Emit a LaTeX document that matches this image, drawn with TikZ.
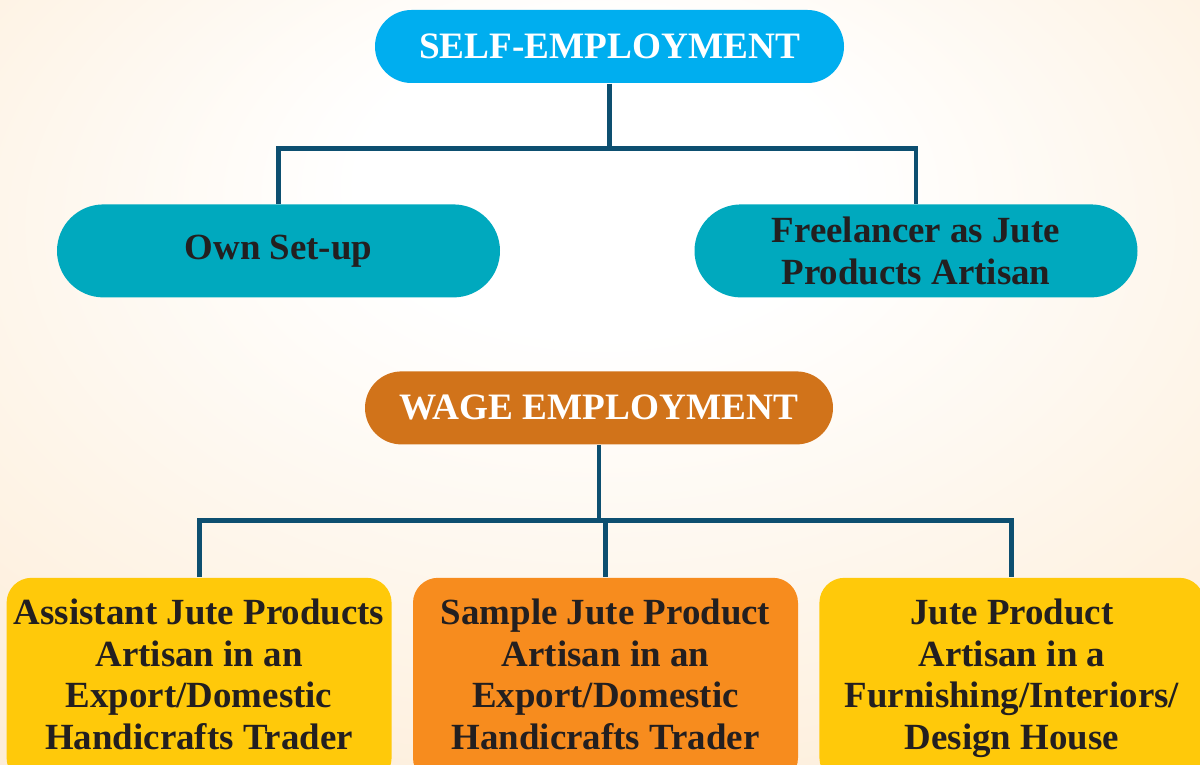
\documentclass[tikz,border=0pt]{standalone}
\usepackage{fontspec}
\setmainfont{Liberation Serif}
\usepackage{xcolor}
\usetikzlibrary{positioning}

\definecolor{bgedge}{HTML}{FCE3C2}
\definecolor{selfblue}{HTML}{00AEEF}
\definecolor{ownteal}{HTML}{00A9BE}
\definecolor{wagebrown}{HTML}{D1731A}
\definecolor{jobyellow}{HTML}{FFC90A}
\definecolor{joborange}{HTML}{F78C1E}
\definecolor{linkblue}{HTML}{0D4F70}
\definecolor{darktext}{HTML}{231F20}

\pgfdeclareradialshading{bgglow}{\pgfpoint{0bp}{15bp}}{color(0bp)=(white); color(10bp)=(white); color(56bp)=(bgedge); color(75bp)=(bgedge)}

\begin{document}
\begin{tikzpicture}[node distance=1cm, auto]
    % Styles
    \tikzstyle{head} = [rectangle, draw=none, minimum width=4.69cm, minimum height=0.73cm, rounded corners=0.365cm, text=white, font=\bfseries\fontsize{10.6}{12}\selectfont]
    \tikzstyle{route} = [rectangle, draw=none, fill=ownteal, minimum width=4.43cm, minimum height=0.93cm, rounded corners=0.465cm, text=darktext, align=center, font=\bfseries\fontsize{10.5}{11.7}\selectfont]
    \tikzstyle{job} = [rectangle, draw=none, inner xsep=0pt, minimum width=3.85cm, minimum height=2.05cm, rounded corners=0.25cm, text=darktext, align=center, font=\bfseries\fontsize{10.5}{11.8}\selectfont]
    \tikzstyle{link} = [linkblue, line width=1.4pt]

    % Background
    \useasboundingbox (0,0) rectangle (12,-7.65);
    \shade[shading=bgglow] (0,0) rectangle (12,-7.65);

    % Self employment
    \node [head, fill=selfblue] (self) at (6.095,-0.465) {SELF-EMPLOYMENT};
    \node [route, below=1.2cm of self, xshift=-3.31cm] (own) {Own Set-up};
    \node [route, below=1.2cm of self, xshift=3.065cm] (free) {Freelancer as Jute\\Products Artisan};

    % Wage employment
    \node [head, fill=wagebrown, minimum width=4.68cm, below=2.87cm of self, xshift=-0.105cm] (wage) {WAGE EMPLOYMENT};
    \node [job, fill=joborange, below=1.32cm of wage, xshift=0.065cm] (sample) {Sample Jute Product\\Artisan in an\\Export/Domestic\\Handicrafts Trader\strut};
    \node [job, fill=jobyellow, left=0.2cm of sample] (assist) {Assistant Jute Products\\Artisan in an\\Export/Domestic\\Handicrafts Trader\strut};
    \node [job, fill=jobyellow, right=0.2cm of sample] (design) {Jute Product\\Artisan in a\\Furnishing/Interiors/\\Design House\strut};

    % Connections
    \coordinate [below=0.65cm of self] (selfbus);
    \coordinate [below=0.75cm of wage] (wagebus);
    \draw [link] (self.south) -- (selfbus);
    \draw [link] (own.north) |- (selfbus) -| (free.north);
    \draw [link] (wage.south) -- (wagebus);
    \draw [link] (sample.north) -- (sample.north |- wagebus);
    \draw [link] (assist.north) |- (wagebus) -| (design.north);

\end{tikzpicture}
\end{document}
